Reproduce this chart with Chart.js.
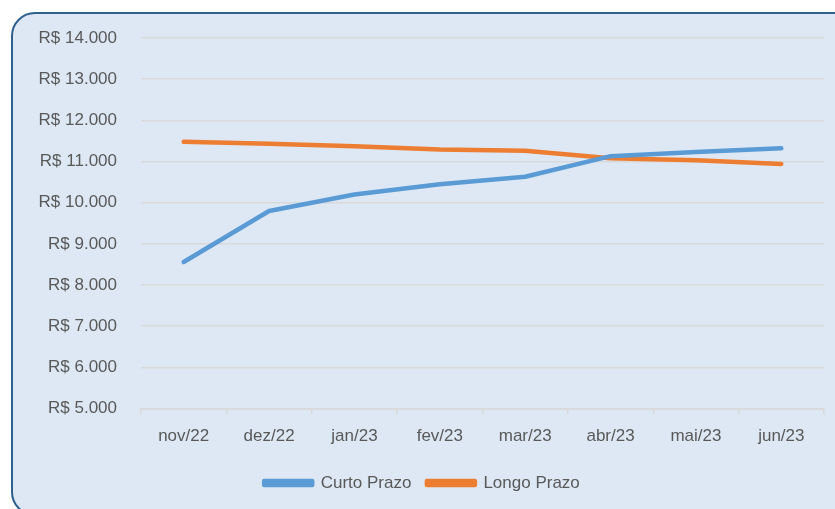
<!DOCTYPE html>
<html>
<head>
<meta charset="utf-8" />
<title>Curto x Longo Prazo</title>
<script src="https://cdn.jsdelivr.net/npm/chart.js@4.4.0/dist/chart.umd.min.js"></script>
<style>
    html, body {
        margin: 0;
        padding: 0;
        background: #ffffff;
        overflow: hidden;
    }
    .frame {
        position: absolute;
        left: 11px;
        top: 12px;
        width: 850px;
        height: 500px;
        border: 2px solid #2f5f8f;
        border-radius: 24px;
        background: #dde8f4;
    }
    .chartContainer {
        position: absolute;
        left: 0;
        top: 0;
        width: 835px;
        height: 509px;
    }
</style>
</head>
<body>
<div class="frame"></div>
<div class="chartContainer">
    <canvas id="myChart" width="835" height="509"></canvas>
</div>

<script>
// data
var months = ['nov/22', 'dez/22', 'jan/23', 'fev/23', 'mar/23', 'abr/23', 'mai/23', 'jun/23'];
var curtoPrazo = [8560, 9800, 10200, 10450, 10630, 11130, 11230, 11320];
var longoPrazo = [11480, 11430, 11370, 11290, 11260, 11080, 11030, 10940];

var textColor = '#595959';
var fontFamily = '"Liberation Sans", Arial, sans-serif';

function realFormat(v) {
    return 'R$ ' + String(v).replace(/\B(?=(\d{3})+(?!\d))/g, '.');
}

var ctx = document.getElementById('myChart').getContext('2d');
var chart = new Chart(ctx, {
    type: 'line',
    data: {
        labels: months,
        datasets: [{
            label: 'Curto Prazo',
            data: curtoPrazo,
            borderColor: '#5b9bd5',
            backgroundColor: '#5b9bd5',
            borderWidth: 4.5,
            borderCapStyle: 'round',
            borderJoinStyle: 'round',
            pointRadius: 0,
            tension: 0
        }, {
            label: 'Longo Prazo',
            data: longoPrazo,
            borderColor: '#ed7d31',
            backgroundColor: '#ed7d31',
            borderWidth: 4.5,
            borderCapStyle: 'round',
            borderJoinStyle: 'round',
            pointRadius: 0,
            tension: 0
        }]
    },
    options: {
        responsive: false,
        animation: false,
        layout: {
            padding: { left: 20, right: 11, top: 38, bottom: 7.5 }
        },
        plugins: {
            tooltip: { enabled: false },
            legend: {
                position: 'bottom',
                labels: {
                    color: textColor,
                    font: { family: fontFamily, size: 17 },
                    boxWidth: 48,
                    boxHeight: 4,
                    padding: 15.5
                }
            }
        },
        scales: {
            x: {
                offset: true,
                grid: {
                    offset: true,
                    drawOnChartArea: false,
                    drawTicks: true,
                    tickLength: 6,
                    color: '#d9d9d9',
                    lineWidth: 1.5
                },
                border: { display: true, color: '#d9d9d9', width: 1.5 },
                ticks: {
                    color: textColor,
                    font: { family: fontFamily, size: 17 },
                    padding: 12,
                    maxRotation: 0
                }
            },
            y: {
                min: 5000,
                max: 14000,
                afterFit: function (scale) { scale.width = 121; },
                grid: {
                    drawTicks: false,
                    color: '#d9d9d9',
                    lineWidth: 1.5
                },
                border: { display: false },
                ticks: {
                    stepSize: 1000,
                    color: textColor,
                    font: { family: fontFamily, size: 17 },
                    padding: 24,
                    callback: function (v) { return realFormat(v); }
                }
            }
        }
    }
});
</script>
</body>
</html>
